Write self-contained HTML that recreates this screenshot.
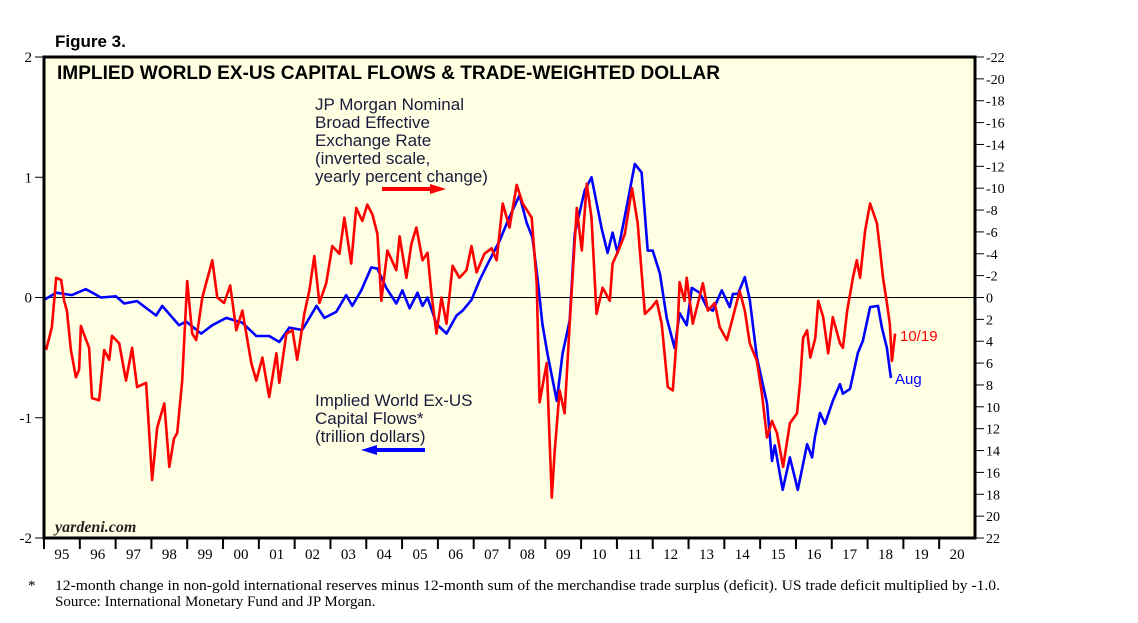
<!DOCTYPE html>
<html><head><meta charset="utf-8"><style>
body{margin:0;background:#fff;width:1138px;height:623px;overflow:hidden}
svg{display:block}
.sans{font-family:"Liberation Sans",sans-serif}
.serif{font-family:"Liberation Serif",serif}
</style></head><body>
<svg id="chart" width="1138" height="623">
<text x="55" y="47" class="sans" font-size="17" font-weight="bold">Figure 3.</text>
<rect x="44" y="57" width="931" height="481" fill="#FFFFE4" stroke="none"/>
<g id="axes"></g>
<g id="series"></g>
<rect x="44" y="57" width="931" height="481" fill="none" stroke="#000" stroke-width="3"/>
<text x="57" y="79" class="sans" font-size="19" font-weight="bold" textLength="663" lengthAdjust="spacingAndGlyphs">IMPLIED WORLD EX-US CAPITAL FLOWS &amp; TRADE-WEIGHTED DOLLAR</text>
<g class="sans" font-size="17" fill="#1a1a3a">
<text x="315" y="110">JP Morgan Nominal</text>
<text x="315" y="128">Broad Effective</text>
<text x="315" y="146">Exchange Rate</text>
<text x="315" y="164">(inverted scale,</text>
<text x="315" y="182">yearly percent change)</text>
</g>
<line x1="382" y1="189" x2="432" y2="189" stroke="#f00" stroke-width="4"/>
<polygon points="430,184 446,189 430,194" fill="#f00"/>
<g class="sans" font-size="17" fill="#1a1a3a">
<text x="315" y="406">Implied World Ex-US</text>
<text x="315" y="424">Capital Flows*</text>
<text x="315" y="442">(trillion dollars)</text>
</g>
<line x1="375" y1="450" x2="425" y2="450" stroke="#00f" stroke-width="4"/>
<polygon points="377,445 361,450 377,455" fill="#00f"/>
<text x="55" y="532" class="serif" font-size="16" font-style="italic" font-weight="bold" fill="#222">yardeni.com</text>
<text x="900" y="341" class="sans" font-size="15" fill="#f00">10/19</text>
<text x="895" y="384" class="sans" font-size="15" fill="#00f">Aug</text>
<text x="28" y="590" class="serif" font-size="15">*</text>
<text x="55" y="590" class="serif" font-size="15" textLength="945" lengthAdjust="spacingAndGlyphs">12-month change in non-gold international reserves minus 12-month sum of the merchandise trade surplus (deficit). US trade deficit multiplied by -1.0.</text>
<text x="55" y="606" class="serif" font-size="15">Source: International Monetary Fund and JP Morgan.</text>
</svg>
<script>
const yearLabels=["95","96","97","98","99","00","01","02","03","04","05","06","07","08","09","10","11","12","13","14","15","16","17","18","19","20"];
const leftTicks=[2,1,0,-1,-2];
const rightTicks=[-22,-20,-18,-16,-14,-12,-10,-8,-6,-4,-2,0,2,4,6,8,10,12,14,16,18,20,22];
const blueDates=[1995.0,1995.34,1995.78,1996.17,1996.59,1997.01,1997.24,1997.6,1998.13,1998.3,1998.77,1998.97,1999.39,1999.7,2000.09,2000.54,2000.93,2001.29,2001.57,2001.85,2002.21,2002.61,2002.83,2003.16,2003.44,2003.61,2003.86,2004.14,2004.31,2004.56,2004.84,2005.01,2005.21,2005.43,2005.57,2005.71,2005.96,2006.24,2006.52,2006.69,2006.94,2007.16,2007.39,2007.72,2008.0,2008.28,2008.48,2008.64,2008.78,2008.92,2009.06,2009.32,2009.48,2009.68,2009.82,2010.1,2010.29,2010.57,2010.74,2010.88,2011.02,2011.27,2011.5,2011.69,2011.86,2012.0,2012.2,2012.39,2012.61,2012.75,2012.95,2013.09,2013.31,2013.51,2013.68,2013.93,2014.15,2014.24,2014.38,2014.57,2014.71,2014.91,2015.19,2015.33,2015.41,2015.63,2015.83,2016.05,2016.31,2016.45,2016.53,2016.67,2016.81,2017.03,2017.23,2017.31,2017.51,2017.73,2017.87,2018.07,2018.29,2018.4,2018.54,2018.65];
const blueValues=[-0.02,0.04,0.02,0.07,0.0,0.01,-0.05,-0.03,-0.15,-0.07,-0.23,-0.2,-0.3,-0.23,-0.17,-0.21,-0.32,-0.32,-0.37,-0.25,-0.27,-0.07,-0.17,-0.12,0.02,-0.07,0.06,0.25,0.24,0.08,-0.05,0.06,-0.09,0.04,-0.07,0.0,-0.22,-0.3,-0.15,-0.11,-0.02,0.14,0.28,0.47,0.67,0.85,0.62,0.5,0.17,-0.22,-0.47,-0.86,-0.47,-0.19,0.53,0.89,1.0,0.58,0.37,0.54,0.37,0.75,1.11,1.04,0.39,0.39,0.2,-0.17,-0.42,-0.13,-0.23,0.08,0.04,-0.08,-0.11,0.06,-0.08,0.03,0.03,0.17,-0.02,-0.5,-0.88,-1.36,-1.23,-1.6,-1.33,-1.6,-1.22,-1.33,-1.16,-0.96,-1.05,-0.86,-0.72,-0.8,-0.76,-0.46,-0.36,-0.08,-0.07,-0.25,-0.42,-0.67];
const redDates=[1995.06,1995.22,1995.34,1995.48,1995.56,1995.64,1995.75,1995.89,1995.98,1996.03,1996.26,1996.34,1996.54,1996.68,1996.82,1996.9,1997.1,1997.29,1997.46,1997.6,1997.85,1998.02,1998.16,1998.36,1998.5,1998.63,1998.72,1998.86,1999.0,1999.14,1999.25,1999.42,1999.7,1999.84,2000.03,2000.2,2000.37,2000.54,2000.79,2000.93,2001.1,2001.29,2001.49,2001.57,2001.77,2001.94,2002.07,2002.27,2002.41,2002.55,2002.69,2002.88,2003.05,2003.25,2003.39,2003.58,2003.72,2003.89,2004.03,2004.17,2004.31,2004.42,2004.59,2004.84,2004.93,2005.12,2005.26,2005.4,2005.57,2005.71,2005.82,2005.96,2006.1,2006.24,2006.41,2006.6,2006.8,2006.94,2007.08,2007.3,2007.5,2007.64,2007.81,2008.0,2008.2,2008.37,2008.62,2008.76,2008.84,2009.04,2009.18,2009.26,2009.4,2009.54,2009.68,2009.88,2010.02,2010.16,2010.29,2010.43,2010.6,2010.8,2010.88,2011.08,2011.22,2011.42,2011.58,2011.78,2011.97,2012.11,2012.25,2012.42,2012.56,2012.7,2012.75,2012.89,2012.95,2013.12,2013.4,2013.54,2013.73,2013.87,2014.07,2014.24,2014.43,2014.57,2014.71,2014.91,2015.05,2015.19,2015.33,2015.47,2015.64,2015.83,2016.03,2016.11,2016.2,2016.31,2016.4,2016.54,2016.62,2016.76,2016.9,2017.03,2017.23,2017.31,2017.43,2017.59,2017.7,2017.79,2017.93,2018.07,2018.26,2018.35,2018.43,2018.54,2018.62,2018.68,2018.77];
const redValues=[4.8,2.7,-1.8,-1.6,0.3,1.2,4.8,7.3,6.6,2.6,4.6,9.2,9.4,4.8,5.7,3.5,4.2,7.6,4.6,8.2,7.8,16.7,11.9,9.7,15.5,12.9,12.4,7.6,-1.5,3.3,3.9,0.0,-3.4,0.0,0.5,-1.1,3.0,1.2,6.0,7.6,5.5,9.1,5.1,7.8,3.3,3.0,5.7,1.5,-0.6,-3.8,0.5,-1.3,-4.7,-4.0,-7.3,-3.1,-8.2,-7.0,-8.5,-7.6,-5.8,0.3,-4.3,-2.5,-5.6,-1.8,-4.9,-6.4,-3.4,-4.1,-0.4,3.3,0.0,2.4,-2.9,-1.8,-2.5,-4.7,-2.3,-4.0,-4.5,-3.4,-8.6,-6.4,-10.3,-8.6,-7.3,-1.3,9.6,6.0,18.3,14.2,8.5,10.6,2.4,-8.2,-4.3,-10.4,-7.3,1.5,-0.9,0.3,-3.1,-4.6,-5.8,-10.0,-6.8,1.5,0.9,0.3,2.4,8.2,8.5,2.4,-1.4,0.3,-1.8,2.4,-1.3,1.2,0.5,2.7,3.9,1.8,-0.6,1.2,4.2,5.8,8.8,12.8,11.3,12.4,15.5,11.5,10.6,7.9,3.7,3.0,5.5,3.7,0.3,1.8,5.1,1.8,4.2,4.6,1.2,-1.8,-3.4,-1.8,-6.1,-8.6,-6.8,-4.3,-1.8,0.5,2.4,5.8,3.3];

const NS="http://www.w3.org/2000/svg";
const X0=44,X1=975,Y0=57,Y1=538;
const xScale=t=>X0+(t-1995)/26*(X1-X0);
const yLeft=v=>Y0+(2-v)/4*(Y1-Y0);
const yRight=v=>Y0+(v+22)/44*(Y1-Y0);
function mk(tag,attrs,parent){const e=document.createElementNS(NS,tag);for(const k in attrs)e.setAttribute(k,attrs[k]);parent.appendChild(e);return e;}
const axes=document.getElementById('axes'),series=document.getElementById('series');

leftTicks.forEach(v=>{const y=yLeft(v);
 const l=mk('line',{x1:35,x2:X0,y1:y,y2:y,stroke:'#000','stroke-width':1},axes);
 
 
 const t=mk('text',{x:32,y:y+5,'text-anchor':'end','font-size':15,'font-family':'Liberation Serif, serif'},axes);t.textContent=v;
 
 });
rightTicks.forEach(v=>{const y=yRight(v);
 const l=mk('line',{x1:X1,x2:X1+9,y1:y,y2:y,stroke:'#000','stroke-width':1},axes);
 
 
 const t=mk('text',{x:X1+11,y:y+5,'font-size':14,'font-family':'Liberation Serif, serif'},axes);t.textContent=v;
 
 });
yearLabels.forEach((lab,i)=>{const x=xScale(1995+i);
 const l=mk('line',{x1:x,x2:x,y1:Y1,y2:Y1+11,stroke:'#000','stroke-width':2},axes);
 
 
 const t=mk('text',{x:xScale(1995.5+i),y:Y1+21,'text-anchor':'middle','font-size':15,'font-family':'Liberation Serif, serif'},axes);t.textContent=lab;
 
 });
const z=mk('line',{x1:X0,x2:X1,y1:yLeft(0),y2:yLeft(0),stroke:'#000','stroke-width':1},axes);



const bd=blueDates.map((d,i)=>(i?'L':'M')+xScale(d).toFixed(1)+' '+yLeft(blueValues[i]).toFixed(1)).join(' ');
const bp=mk('path',{d:bd,fill:'none',stroke:'#00f','stroke-width':2.6,'stroke-linejoin':'round'},series);


const rd=redDates.map((d,i)=>(i?'L':'M')+xScale(d).toFixed(1)+' '+yRight(redValues[i]).toFixed(1)).join(' ');
const rp=mk('path',{d:rd,fill:'none',stroke:'#f00','stroke-width':2.6,'stroke-linejoin':'round'},series);


</script>
</body></html>
